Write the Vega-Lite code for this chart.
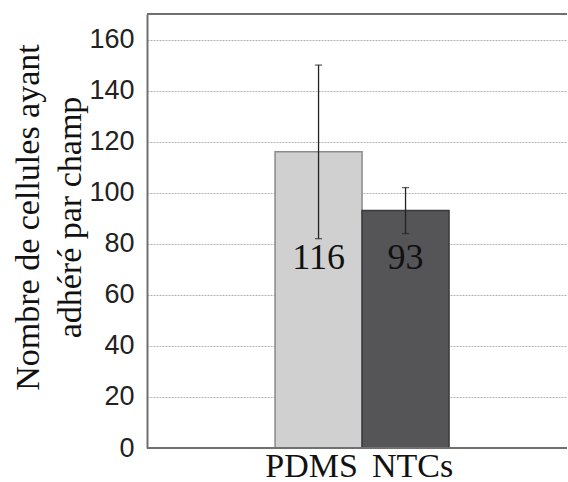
{
  "$schema": "https://vega.github.io/schema/vega-lite/v6.json",
  "autosize": "none",
  "width": 420,
  "height": 434,
  "padding": {"left": 147, "top": 14, "right": 1, "bottom": 34},
  "background": "white",
  "config": {
    "font": "Liberation Serif",
    "view": {"stroke": null},
    "axis": {"titleFont": "Liberation Serif", "titleFontWeight": "normal"},
    "style": {"guide-title": {"font": "Liberation Serif", "fontWeight": "normal"}}
  },
  "data": {"values": [
    {"group": "PDMS", "value": 116, "low": 82, "high": 150, "label": "116"},
    {"group": "NTCs", "value": 93, "low": 84, "high": 102, "label": "93"}
  ]},
  "layer": [
    {
      "mark": {"type": "bar", "strokeWidth": 1.5},
      "encoding": {
        "x": {
          "field": "group", "type": "nominal",
          "scale": {"domain": [" ", "PDMS", "NTCs", "  "], "paddingInner": 0, "paddingOuter": 0.414, "align": 0.57},
          "axis": {
            "title": null, "labelFont": "Liberation Serif", "labelFontSize": 34, "labelColor": "#111",
            "labelAngle": 0, "ticks": false, "domain": false, "labelPadding": 1,
            "labelOffset": {"condition": {"test": "datum.value === 'PDMS'", "value": -7}, "value": 7}
          }
        },
        "y": {
          "field": "value", "type": "quantitative",
          "scale": {"domain": [0, 170], "nice": false},
          "axis": {
            "values": [0, 20, 40, 60, 80, 100, 120, 140, 160],
            "grid": true, "gridColor": "#b4b4b4", "gridDash": [2, 1], "ticks": false,
            "labelFont": "Liberation Sans", "labelFontSize": 27, "labelColor": "#222", "labelPadding": 13,
            "domainColor": "#707070", "domainWidth": 2,
            "title": ["Nombre de cellules ayant", "adhéré par champ"],
            "titleFont": {"expr": "'Liberation Serif'"}, "titleFontSize": 34,
            "titleColor": "#111", "titleLineHeight": 42, "titleAngle": -90, "titleBaseline": "alphabetic",
            "titleAlign": "center", "titleX": -109, "titleY": 203
          }
        },
        "fill": {"field": "group", "type": "nominal", "scale": {"domain": ["PDMS", "NTCs"], "range": ["#d0d0d0", "#555557"]}, "legend": null},
        "stroke": {"field": "group", "type": "nominal", "scale": {"domain": ["PDMS", "NTCs"], "range": ["#8a8a8a", "#3a3a3a"]}, "legend": null}
      }
    },
    {
      "mark": {"type": "rule", "color": "#222", "strokeWidth": 1.3},
      "encoding": {
        "x": {"field": "group", "type": "nominal"},
        "y": {"field": "low", "type": "quantitative"},
        "y2": {"field": "high"}
      }
    },
    {
      "mark": {"type": "tick", "color": "#222", "size": 7, "thickness": 1.3},
      "encoding": {
        "x": {"field": "group", "type": "nominal"},
        "y": {"field": "high", "type": "quantitative"}
      }
    },
    {
      "mark": {"type": "tick", "color": "#222", "size": 7, "thickness": 1.3},
      "encoding": {
        "x": {"field": "group", "type": "nominal"},
        "y": {"field": "low", "type": "quantitative"}
      }
    },
    {
      "mark": {"type": "text", "font": "Liberation Serif", "fontSize": 36, "baseline": "alphabetic", "color": "#111"},
      "encoding": {
        "x": {"field": "group", "type": "nominal"},
        "y": {"datum": 70, "type": "quantitative"},
        "text": {"field": "label"}
      }
    },
    {
      "mark": {"type": "rule", "color": "#707070", "strokeWidth": 2},
      "encoding": {"y": {"datum": 170, "type": "quantitative"}}
    },
    {
      "mark": {"type": "rule", "color": "#707070", "strokeWidth": 2},
      "encoding": {"y": {"datum": 0, "type": "quantitative"}}
    }
  ]
}
